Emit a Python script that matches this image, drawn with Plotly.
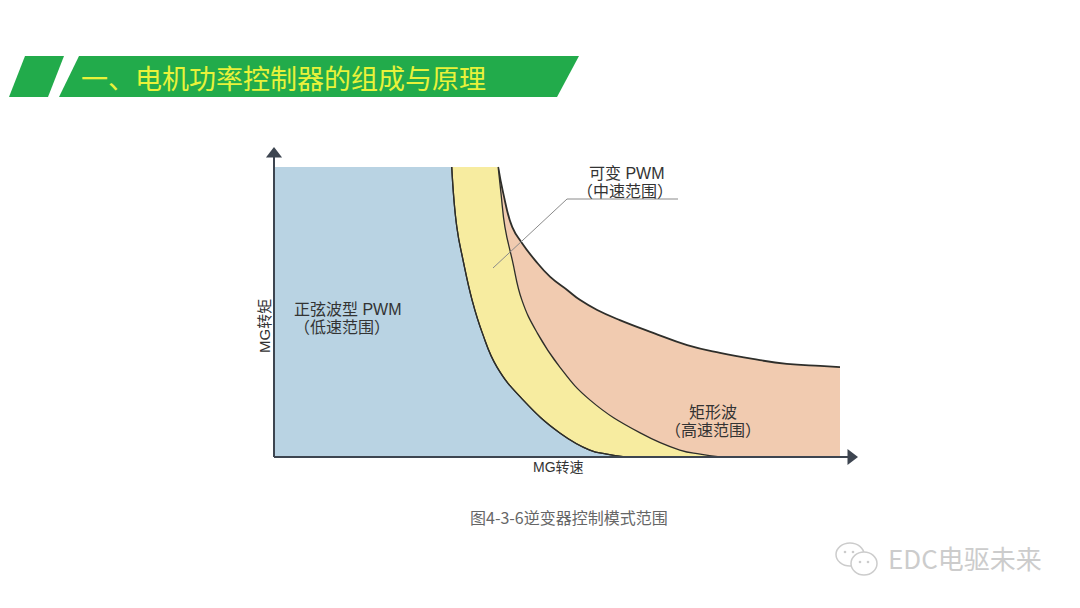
import plotly.graph_objects as go

# ---------------- data (speed %, torque %) ----------------
# boundary between sine-wave PWM and variable PWM
sine_speed = [31.4, 32.3, 33.4, 35.0, 36.8, 39.4, 44.0, 50.5, 55.8, 58.8, 62.0]
sine_torque = [100, 79.3, 67.9, 54.1, 42.8, 31.0, 19.7, 8.3, 2.4, 1.0, 0]

# boundary between variable PWM and rectangular wave
vpwm_speed = [39.6, 40.1, 40.8, 42.1, 43.8, 46.5, 50.5, 55.8, 64.7, 71.7, 75.3, 78.8]
vpwm_torque = [100, 91.0, 79.3, 67.9, 54.1, 42.8, 31.0, 19.7, 8.3, 2.4, 1.0, 0]

# upper limit of rectangular wave region
rect_speed = [39.6, 40.5, 42.1, 43.8, 46.1, 48.8, 51.8, 54.1, 57.1, 61.1, 67.0,
              73.0, 78.8, 84.6, 90.6, 96.5, 100]
rect_torque = [100, 91.0, 79.3, 73.8, 67.9, 62.1, 57.6, 54.1, 50.7, 47.2, 42.8,
               38.6, 35.9, 33.8, 32.1, 31.4, 31.0]

region_names = ["正弦波型 PWM", "可变 PWM", "矩形波"]
region_ranges = ["（低速范围）", "（中速范围）", "（高速范围）"]
x_title = "MG转速"
y_title = "MG转矩"
slide_title = "一、电机功率控制器的组成与原理"
caption = "图4-3-6逆变器控制模式范围"
watermark = "EDC电驱未来"

# ---------------- styling ----------------
W, H = 1080, 608
OFF = 8  # page offset of the figure inside the browser window
BLUE = "#b9d3e3"
YELLOW = "#f7eca0"
ORANGE = "#f1cbb0"
EDGE = "#2e2e2a"
AXIS = "#3d4550"
TXT = "#333333"
FONT = "Noto Sans CJK SC"
LABEL_FONT = "Liberation Sans, Noto Sans CJK SC"

# plot frame: speed 0..100 -> pixels 274..840, torque 0..100 -> pixels 457..167
X0PX, X100PX = 274, 840
Y0PX, Y100PX = 457, 167
kx = (X100PX - X0PX) / 100.0
ky = (Y0PX - Y100PX) / 100.0
x_range = [(OFF - X0PX) / kx, (W + OFF - X0PX) / kx]
y_range = [(Y0PX - (H + OFF)) / ky, (Y0PX - OFF) / ky]


def dx(px):
    return (px - X0PX) / kx


def dy(py):
    return (Y0PX - py) / ky


def P(px):
    return (px - OFF) / W


def Q(py):
    return 1 - (py - OFF) / H


fig = go.Figure()
SM = 1.3

# orange: area under the rectangular-wave limit
fig.add_trace(go.Scatter(
    x=rect_speed, y=rect_torque, mode="lines",
    line=dict(color=EDGE, width=1.8, shape="spline", smoothing=SM),
    fill="tozeroy", fillcolor=ORANGE, hoverinfo="skip", showlegend=False))

# blue: left of the sine boundary
fig.add_trace(go.Scatter(
    x=sine_speed, y=sine_torque, mode="lines",
    line=dict(color=EDGE, width=1.3, shape="spline", smoothing=SM),
    fill="tozerox", fillcolor=BLUE, hoverinfo="skip", showlegend=False))

# yellow: between sine boundary and variable PWM boundary
fig.add_trace(go.Scatter(
    x=vpwm_speed, y=vpwm_torque, mode="lines",
    line=dict(color=EDGE, width=1.3, shape="spline", smoothing=SM),
    fill="tonextx", fillcolor=YELLOW, hoverinfo="skip", showlegend=False))

# redraw sine edge on top
fig.add_trace(go.Scatter(
    x=sine_speed, y=sine_torque, mode="lines",
    line=dict(color=EDGE, width=1.3, shape="spline", smoothing=SM),
    hoverinfo="skip", showlegend=False))

# axes with arrows
x_tip, y_tip = dx(851), dy(154)
fig.add_trace(go.Scatter(x=[0, x_tip], y=[0, 0], mode="lines", line=dict(color=AXIS, width=2),
                         hoverinfo="skip", showlegend=False))
fig.add_trace(go.Scatter(x=[0, 0], y=[0, y_tip], mode="lines", line=dict(color=AXIS, width=2),
                         hoverinfo="skip", showlegend=False))
fig.add_trace(go.Scatter(x=[x_tip], y=[0], mode="markers",
                         marker=dict(symbol="triangle-right", size=14, color=AXIS),
                         hoverinfo="skip", showlegend=False))
fig.add_trace(go.Scatter(x=[0], y=[y_tip], mode="markers",
                         marker=dict(symbol="triangle-up", size=14, color=AXIS),
                         hoverinfo="skip", showlegend=False))

# leader line for variable PWM
fig.add_trace(go.Scatter(x=[dx(493), dx(567), dx(678)], y=[dy(268), dy(199), dy(199)],
                         mode="lines", line=dict(color="#8a8a8a", width=1),
                         hoverinfo="skip", showlegend=False))

ann = []


def label(text, px, py, size=16, color=TXT, xanchor="center", angle=0, family=LABEL_FONT):
    ann.append(dict(text=text, x=dx(px), y=dy(py), xref="x", yref="y", showarrow=False,
                    xanchor=xanchor, yanchor="middle", textangle=angle,
                    font=dict(family=family, size=size, color=color)))


label(region_names[0], 292, 309, xanchor="left")
label(region_ranges[0], 292, 327, xanchor="left")
label(region_names[1], 627, 173)
label(region_ranges[1], 625, 191)
label(region_names[2], 713, 412)
label(region_ranges[2], 713, 430)
label(x_title, 558, 467, size=14)
label(y_title, 264, 326, size=15, angle=-90)

# title, caption, watermark (paper coords)
ann.append(dict(text=slide_title, x=P(79), y=Q(77), xref="paper", yref="paper", showarrow=False,
                xanchor="left", yanchor="middle",
                font=dict(family=FONT, size=27, color="#e9f23a")))
ann.append(dict(text=caption, x=P(569), y=Q(517), xref="paper", yref="paper", showarrow=False,
                xanchor="center", yanchor="middle",
                font=dict(family=FONT, size=16, color="#666666")))
ann.append(dict(text=watermark, x=P(886), y=Q(557), xref="paper", yref="paper", showarrow=False,
                xanchor="left", yanchor="middle",
                font=dict(family=FONT, size=26, color="#cccccc")))

shapes = []
GREEN = "#22ab4b"
shapes.append(dict(type="path", xref="paper", yref="paper", fillcolor=GREEN, line=dict(width=0),
                   path=f"M {P(25)} {Q(56)} L {P(64)} {Q(56)} L {P(48)} {Q(97)} L {P(9)} {Q(97)} Z"))
shapes.append(dict(type="path", xref="paper", yref="paper", fillcolor=GREEN, line=dict(width=0),
                   path=f"M {P(79)} {Q(56)} L {P(579)} {Q(56)} L {P(557)} {Q(97)} L {P(59)} {Q(97)} Z"))
# wechat icon
shapes.append(dict(type="circle", xref="paper", yref="paper", x0=P(836), x1=P(864), y0=Q(566), y1=Q(543),
                   line=dict(color="#cccccc", width=1.5), fillcolor="white"))
shapes.append(dict(type="circle", xref="paper", yref="paper", x0=P(851), x1=P(877), y0=Q(575), y1=Q(552),
                   line=dict(color="#cccccc", width=1.5), fillcolor="white"))
for cx, cy in [(845, 552), (853, 552), (860, 562), (868, 562)]:
    shapes.append(dict(type="circle", xref="paper", yref="paper", x0=P(cx - 1.3), x1=P(cx + 1.3),
                       y0=Q(cy + 1.3), y1=Q(cy - 1.3), line=dict(width=0), fillcolor="#cccccc"))

fig.update_layout(
    width=W, height=H, margin=dict(l=0, r=0, t=0, b=0),
    paper_bgcolor="white", plot_bgcolor="white",
    xaxis=dict(range=x_range, visible=False, fixedrange=True),
    yaxis=dict(range=y_range, visible=False, fixedrange=True),
    annotations=ann, shapes=shapes, showlegend=False,
)

fig.write_html("out.html")
